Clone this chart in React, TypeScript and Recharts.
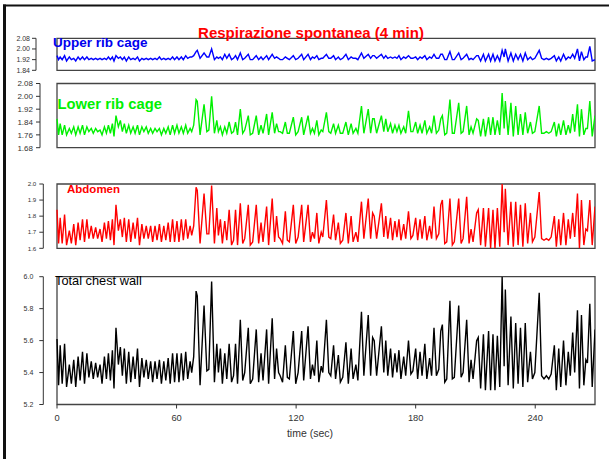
import React from 'react';
import { LineChart, Line, XAxis, YAxis, ReferenceArea } from 'recharts';

// turning-point times (s), shared by the four traces
const timeSec = [
  0.0, 0.8, 1.6, 2.6, 3.8, 4.8, 6.2, 7.2, 8.4, 9.4,
  10.6, 11.6, 12.8, 13.8, 15.0, 16.0, 17.2, 18.2, 19.4, 20.4,
  21.6, 22.6, 23.8, 24.8, 25.8, 26.8, 27.8, 28.6, 29.6, 30.8,
  31.8, 32.8, 33.8, 34.8, 36.0, 37.0, 38.2, 39.2, 40.4, 41.4,
  42.6, 43.6, 44.8, 45.8, 47.0, 48.0, 49.2, 50.2, 51.4, 52.4,
  53.6, 54.6, 55.8, 56.8, 58.0, 59.0, 60.2, 61.2, 62.4, 63.4,
  64.6, 65.6, 66.8, 67.6,
  68.6, 69.8, 70.4, 71.8, 73.8, 75.2, 76.2, 77.6, 79.0, 80.2,
  81.0, 82.0, 83.0, 84.2, 85.2, 86.4, 87.6, 88.6,
  89.6, 90.6, 92.0, 93.2, 94.2, 96.0, 97.0, 98.2, 100.0, 101.2,
  102.4, 103.4, 105.2, 106.2, 108.0, 109.2, 110.2, 111.2, 112.0, 113.2,
  114.6, 115.6, 116.6, 118.6, 119.8, 121.0, 122.8, 123.8, 126.0, 127.2,
  128.2, 129.2, 130.4, 131.4, 132.6, 133.4, 135.2, 136.4, 137.4, 138.8,
  139.8, 141.2, 142.2, 143.4, 145.0, 146.2, 147.6, 148.6, 150.0, 151.0,
  152.8, 154.0, 156.2, 157.4, 158.4, 159.2, 160.4, 162.8, 164.0, 165.0,
  166.0, 167.4, 168.4, 169.6, 170.6, 171.6, 172.6, 174.0, 175.0, 176.4,
  177.6, 178.6, 180.0, 181.0, 182.2, 183.2, 184.6, 185.6, 187.0, 188.0,
  189.2, 190.4, 191.6, 192.6, 193.4, 194.6, 195.6, 197.2, 198.4, 199.4,
  201.6, 202.8, 203.8, 205.6, 206.8, 207.8, 208.8, 210.6, 211.4, 212.6,
  214.0, 215.0, 216.6, 217.6, 218.8, 219.8, 221.0, 222.2, 223.4, 224.4,
  225.0, 226.4, 227.8, 229.0, 230.2, 231.4, 232.6, 233.8, 235.0, 236.2,
  237.6, 238.6, 239.8, 242.0, 243.2, 244.4, 245.6, 246.8, 248.0, 249.6,
  250.6, 251.8, 252.8, 254.2, 255.4, 256.6, 257.6, 258.8, 259.8, 261.2,
  262.2, 263.2, 264.4, 265.4, 266.2, 267.4, 268.6, 270.0,
];

const upperRibCage = [
  1.95, 1.92, 1.94, 1.92, 1.95, 1.91, 1.94, 1.92, 1.93, 1.91,
  1.94, 1.92, 1.94, 1.92, 1.94, 1.92, 1.93, 1.92, 1.93, 1.92,
  1.93, 1.92, 1.93, 1.92, 1.94, 1.92, 1.94, 1.91, 1.95, 1.93,
  1.94, 1.92, 1.94, 1.91, 1.94, 1.92, 1.93, 1.92, 1.94, 1.91,
  1.93, 1.92, 1.93, 1.92, 1.93, 1.92, 1.93, 1.92, 1.94, 1.92,
  1.93, 1.92, 1.93, 1.92, 1.94, 1.92, 1.94, 1.92, 1.94, 1.92,
  1.95, 1.93, 1.94, 1.94,
  1.95, 1.98, 1.99, 1.93, 1.97, 1.94, 1.94, 2.00, 1.92, 1.94,
  1.93, 1.94, 1.92, 1.96, 1.93, 1.96, 1.92, 1.93,
  1.95, 1.92, 1.97, 1.92, 1.93, 1.96, 1.92, 1.92, 1.95, 1.92,
  1.94, 1.92, 1.95, 1.92, 1.96, 1.93, 1.94, 1.93, 1.92, 1.92,
  1.94, 1.93, 1.92, 1.95, 1.92, 1.93, 1.96, 1.92, 1.96, 1.92,
  1.94, 1.93, 1.95, 1.92, 1.93, 1.93, 1.96, 1.93, 1.93, 1.95,
  1.92, 1.94, 1.92, 1.93, 1.96, 1.92, 1.94, 1.93, 1.93, 1.92,
  1.97, 1.93, 1.96, 1.93, 1.95, 1.95, 1.93, 1.96, 1.93, 1.95,
  1.93, 1.94, 1.93, 1.94, 1.93, 1.95, 1.92, 1.94, 1.93, 1.95,
  1.93, 1.93, 1.94, 1.92, 1.94, 1.93, 1.95, 1.92, 1.94, 1.93,
  1.96, 1.93, 1.93, 1.96, 1.96, 1.92, 1.92, 1.98, 1.92, 1.92,
  1.97, 1.92, 1.93, 1.96, 1.92, 1.93, 1.92, 1.95, 1.95, 1.91,
  1.96, 1.91, 1.96, 1.91, 1.96, 1.91, 1.95, 1.91, 1.99, 1.94,
  2.00, 1.91, 1.97, 1.91, 1.96, 1.92, 1.96, 1.91, 1.97, 1.92,
  1.94, 1.92, 1.93, 1.99, 1.93, 1.92, 1.93, 1.92, 1.93, 1.95,
  1.91, 1.94, 1.91, 1.96, 1.92, 1.94, 1.93, 1.96, 1.93, 2.00,
  1.91, 1.98, 1.92, 1.94, 1.94, 2.02, 1.91, 1.92,
];

const lowerRibCage = [
  1.86, 1.76, 1.83, 1.76, 1.82, 1.76, 1.80, 1.77, 1.81, 1.76,
  1.81, 1.77, 1.82, 1.76, 1.81, 1.78, 1.80, 1.77, 1.80, 1.78,
  1.79, 1.76, 1.81, 1.77, 1.82, 1.77, 1.83, 1.75, 1.88, 1.81,
  1.85, 1.78, 1.83, 1.77, 1.82, 1.77, 1.81, 1.77, 1.82, 1.76,
  1.81, 1.78, 1.81, 1.77, 1.80, 1.77, 1.80, 1.78, 1.80, 1.76,
  1.80, 1.77, 1.81, 1.76, 1.82, 1.77, 1.82, 1.77, 1.81, 1.77,
  1.82, 1.77, 1.80, 1.78,
  1.82, 1.98, 1.97, 1.76, 1.95, 1.78, 1.79, 2.00, 1.77, 1.85,
  1.78, 1.81, 1.76, 1.81, 1.77, 1.84, 1.77, 1.78,
  1.84, 1.76, 1.92, 1.77, 1.79, 1.88, 1.76, 1.77, 1.88, 1.76,
  1.82, 1.77, 1.89, 1.76, 1.90, 1.77, 1.83, 1.78, 1.78, 1.77,
  1.84, 1.77, 1.77, 1.87, 1.76, 1.78, 1.87, 1.76, 1.88, 1.77,
  1.80, 1.77, 1.85, 1.76, 1.79, 1.78, 1.90, 1.78, 1.77, 1.83,
  1.77, 1.82, 1.77, 1.77, 1.84, 1.76, 1.83, 1.77, 1.80, 1.77,
  1.94, 1.77, 1.92, 1.77, 1.86, 1.86, 1.77, 1.88, 1.78, 1.86,
  1.78, 1.83, 1.77, 1.82, 1.78, 1.82, 1.77, 1.81, 1.77, 1.91,
  1.78, 1.78, 1.84, 1.77, 1.82, 1.77, 1.85, 1.77, 1.81, 1.77,
  1.88, 1.77, 1.79, 1.86, 1.88, 1.76, 1.77, 1.98, 1.77, 1.77,
  1.96, 1.77, 1.78, 1.94, 1.76, 1.81, 1.77, 1.86, 1.85, 1.75,
  1.86, 1.75, 1.87, 1.76, 1.87, 1.76, 1.85, 1.76, 2.02, 1.80,
  1.97, 1.76, 1.96, 1.75, 1.94, 1.76, 1.89, 1.76, 1.90, 1.77,
  1.84, 1.77, 1.78, 1.94, 1.77, 1.77, 1.78, 1.77, 1.78, 1.84,
  1.75, 1.83, 1.76, 1.85, 1.76, 1.82, 1.77, 1.89, 1.78, 1.95,
  1.75, 1.92, 1.76, 1.80, 1.80, 1.97, 1.75, 1.88,
];

const abdomen = [
  1.84, 1.63, 1.79, 1.63, 1.81, 1.62, 1.71, 1.63, 1.75, 1.62,
  1.76, 1.65, 1.78, 1.64, 1.78, 1.66, 1.74, 1.66, 1.73, 1.66,
  1.72, 1.64, 1.76, 1.66, 1.77, 1.65, 1.78, 1.62, 1.87, 1.71,
  1.78, 1.67, 1.79, 1.64, 1.78, 1.64, 1.76, 1.66, 1.79, 1.62,
  1.75, 1.66, 1.74, 1.66, 1.74, 1.64, 1.74, 1.65, 1.75, 1.64,
  1.74, 1.65, 1.76, 1.64, 1.78, 1.64, 1.77, 1.64, 1.78, 1.65,
  1.78, 1.66, 1.74, 1.68,
  1.74, 1.98, 1.96, 1.63, 1.94, 1.69, 1.69, 1.99, 1.63, 1.85,
  1.68, 1.78, 1.63, 1.77, 1.65, 1.84, 1.62, 1.65,
  1.84, 1.62, 1.88, 1.63, 1.66, 1.87, 1.62, 1.64, 1.87, 1.63,
  1.76, 1.64, 1.86, 1.62, 1.91, 1.64, 1.80, 1.67, 1.66, 1.63,
  1.83, 1.65, 1.64, 1.87, 1.63, 1.67, 1.87, 1.64, 1.87, 1.64,
  1.70, 1.66, 1.82, 1.63, 1.70, 1.67, 1.90, 1.67, 1.66, 1.81,
  1.65, 1.76, 1.63, 1.65, 1.82, 1.63, 1.80, 1.64, 1.70, 1.64,
  1.89, 1.66, 1.91, 1.66, 1.82, 1.80, 1.66, 1.88, 1.67, 1.80,
  1.66, 1.79, 1.65, 1.77, 1.67, 1.78, 1.65, 1.75, 1.66, 1.83,
  1.66, 1.68, 1.79, 1.65, 1.78, 1.66, 1.80, 1.65, 1.74, 1.66,
  1.86, 1.66, 1.69, 1.87, 1.90, 1.63, 1.64, 1.91, 1.62, 1.64,
  1.91, 1.63, 1.66, 1.92, 1.63, 1.72, 1.64, 1.82, 1.84, 1.62,
  1.85, 1.61, 1.85, 1.60, 1.84, 1.60, 1.85, 1.61, 2.00, 1.70,
  1.97, 1.62, 1.89, 1.61, 1.89, 1.62, 1.87, 1.61, 1.88, 1.63,
  1.82, 1.64, 1.67, 1.95, 1.66, 1.65, 1.66, 1.65, 1.67, 1.80,
  1.61, 1.78, 1.62, 1.82, 1.62, 1.78, 1.66, 1.82, 1.67, 1.94,
  1.60, 1.90, 1.62, 1.72, 1.71, 1.90, 1.62, 1.86,
];

const totalChestWall = [
  5.61, 5.32, 5.57, 5.33, 5.58, 5.31, 5.45, 5.33, 5.48, 5.31,
  5.50, 5.35, 5.53, 5.33, 5.52, 5.37, 5.47, 5.36, 5.46, 5.37,
  5.45, 5.33, 5.50, 5.36, 5.52, 5.35, 5.54, 5.30, 5.68, 5.45,
  5.56, 5.38, 5.55, 5.33, 5.53, 5.34, 5.50, 5.36, 5.55, 5.31,
  5.49, 5.37, 5.48, 5.36, 5.47, 5.34, 5.47, 5.36, 5.48, 5.33,
  5.47, 5.35, 5.49, 5.33, 5.52, 5.34, 5.52, 5.34, 5.52, 5.35,
  5.53, 5.36, 5.47, 5.40,
  5.50, 5.91, 5.88, 5.32, 5.82, 5.41, 5.42, 5.97, 5.34, 5.58,
  5.40, 5.55, 5.33, 5.52, 5.36, 5.58, 5.34, 5.38,
  5.58, 5.33, 5.73, 5.35, 5.40, 5.68, 5.33, 5.36, 5.67, 5.34,
  5.52, 5.35, 5.67, 5.33, 5.74, 5.36, 5.55, 5.40, 5.38, 5.34,
  5.57, 5.37, 5.36, 5.66, 5.33, 5.40, 5.66, 5.35, 5.69, 5.36,
  5.45, 5.38, 5.60, 5.34, 5.44, 5.40, 5.73, 5.40, 5.38, 5.57,
  5.36, 5.51, 5.34, 5.37, 5.59, 5.33, 5.55, 5.36, 5.45, 5.35,
  5.78, 5.38, 5.76, 5.38, 5.62, 5.60, 5.38, 5.69, 5.40, 5.60,
  5.38, 5.55, 5.37, 5.52, 5.40, 5.54, 5.36, 5.50, 5.38, 5.60,
  5.39, 5.41, 5.55, 5.36, 5.53, 5.38, 5.58, 5.36, 5.49, 5.38,
  5.68, 5.38, 5.42, 5.66, 5.70, 5.34, 5.36, 5.85, 5.36, 5.37,
  5.82, 5.37, 5.40, 5.73, 5.34, 5.48, 5.36, 5.60, 5.62, 5.30,
  5.64, 5.29, 5.66, 5.29, 5.64, 5.29, 5.63, 5.31, 6.00, 5.44,
  5.92, 5.32, 5.75, 5.30, 5.71, 5.33, 5.68, 5.31, 5.71, 5.34,
  5.53, 5.36, 5.40, 5.90, 5.38, 5.36, 5.38, 5.36, 5.39, 5.57,
  5.29, 5.55, 5.31, 5.60, 5.32, 5.53, 5.38, 5.65, 5.40, 5.79,
  5.30, 5.76, 5.32, 5.48, 5.46, 5.83, 5.31, 5.67,
];

const xTicks = [0, 60, 120, 180, 240];
const upperTicks = [1.84, 1.92, 2.0, 2.08];
const lowerTicks = [1.68, 1.76, 1.84, 1.92, 2.0, 2.08];
const abdomenTicks = [1.6, 1.7, 1.8, 1.9, 2.0];
const totalTicks = [5.2, 5.4, 5.6, 5.8, 6.0];

const W = 609;
const H = 459;
const BOX_L = 57;
const BOX_R = 595;
const T_MAX = 270;
const PX_PER_SEC = (BOX_R - BOX_L) / T_MAX;
const FONT = '"Liberation Sans", Arial, Helvetica, sans-serif';

const mk = (vals: number[]) => timeSec.map((t, i) => ({ t, v: vals[i] }));

type PanelProps = {
  values: number[];
  color: string;
  ticks: number[];
  axisX: number;
  top: number;
  bottom: number;
  decimals: number;
  fontSize: number;
  tickMargin: number;
  showX?: boolean;
};

function Panel(p: PanelProps) {
  const tMin = -(BOX_L - p.axisX) / PX_PER_SEC;
  const xAxisH = 30;
  const yDomain: [number, number] = [p.ticks[0], p.ticks[p.ticks.length - 1]];
  return (
    <div style={{ position: 'absolute', left: 0, top: 0 }}>
      <LineChart
        width={W}
        height={H}
        data={mk(p.values)}
        margin={{
          top: p.top,
          right: W - BOX_R,
          left: 0,
          bottom: H - p.bottom - (p.showX ? xAxisH : 0),
        }}
      >
        <XAxis
          type="number"
          dataKey="t"
          domain={[tMin, T_MAX]}
          allowDataOverflow
          hide={!p.showX}
          ticks={xTicks}
          interval={0}
          height={xAxisH}
          axisLine={false}
          tickLine={{ stroke: '#333', strokeWidth: 1 }}
          tickSize={4}
          tickMargin={6}
          tick={{ fontSize: 9.3, fill: '#333', fontFamily: FONT }}
        />
        <YAxis
          type="number"
          domain={yDomain}
          allowDataOverflow
          ticks={p.ticks}
          interval={0}
          width={p.axisX}
          axisLine={{ stroke: '#333', strokeWidth: 1 }}
          tickLine={{ stroke: '#333', strokeWidth: 1 }}
          tickSize={4}
          tickMargin={p.tickMargin}
          tickFormatter={(v: number) => v.toFixed(p.decimals)}
          tick={{ fontSize: p.fontSize, fill: '#333', fontFamily: FONT }}
        />
        <ReferenceArea
          x1={0}
          x2={T_MAX}
          y1={yDomain[0]}
          y2={yDomain[1]}
          fill="none"
          fillOpacity={0}
          stroke="#444"
          strokeWidth={1.3}
          ifOverflow="visible"
        />
        <Line
          type="linear"
          dataKey="v"
          stroke={p.color}
          strokeWidth={1.4}
          dot={false}
          activeDot={false}
          isAnimationActive={false}
        />
      </LineChart>
    </div>
  );
}

export default function App() {
  return (
    <div
      style={{
        position: 'fixed',
        left: 0,
        top: 0,
        width: W,
        height: H,
        background: '#fff',
        overflow: 'hidden',
      }}
    >
      <Panel values={upperRibCage} color="#0000ff" ticks={upperTicks} axisX={36} top={38.3} bottom={70.3} decimals={2} fontSize={7} tickMargin={2} />
      <Panel values={lowerRibCage} color="#00f000" ticks={lowerTicks} axisX={40} top={83.5} bottom={147.7} decimals={2} fontSize={8} tickMargin={3} />
      <Panel values={abdomen} color="#ff0000" ticks={abdomenTicks} axisX={43.3} top={184} bottom={248.3} decimals={1} fontSize={6.2} tickMargin={3} />
      <Panel values={totalChestWall} color="#000000" ticks={totalTicks} axisX={43.3} top={276.7} bottom={404.5} decimals={1} fontSize={7} tickMargin={6} showX />
      <svg width={W} height={H} style={{ position: 'absolute', left: 0, top: 0, pointerEvents: 'none' }}>
        <rect x={3} y={4.5} width={W - 3} height={2} fill="#111" />
        <rect x={3} y={4.5} width={3} height={H - 4.5} fill="#111" />
        <text x={311} y={37.5} textAnchor="middle" fontFamily={FONT} fontWeight="bold" fontSize={15} fill="#ff0000">
          Respirazione spontanea (4 min)
        </text>
        <text x={53} y={46.5} fontFamily={FONT} fontWeight="bold" fontSize={13.5} fill="#0000ee">
          Upper rib cage
        </text>
        <text x={57.5} y={109} fontFamily={FONT} fontWeight="bold" fontSize={14.8} fill="#00f000">
          Lower rib cage
        </text>
        <text x={67} y={193} fontFamily={FONT} fontWeight="bold" fontSize={11.5} fill="#ff0000">
          Abdomen
        </text>
        <text x={55} y={285} fontFamily={FONT} fontSize={12.8} fill="#000">
          Total chest wall
        </text>
        <text x={310} y={437} textAnchor="middle" fontFamily={FONT} fontSize={10.5} fill="#333">
          time (sec)
        </text>
      </svg>
    </div>
  );
}
